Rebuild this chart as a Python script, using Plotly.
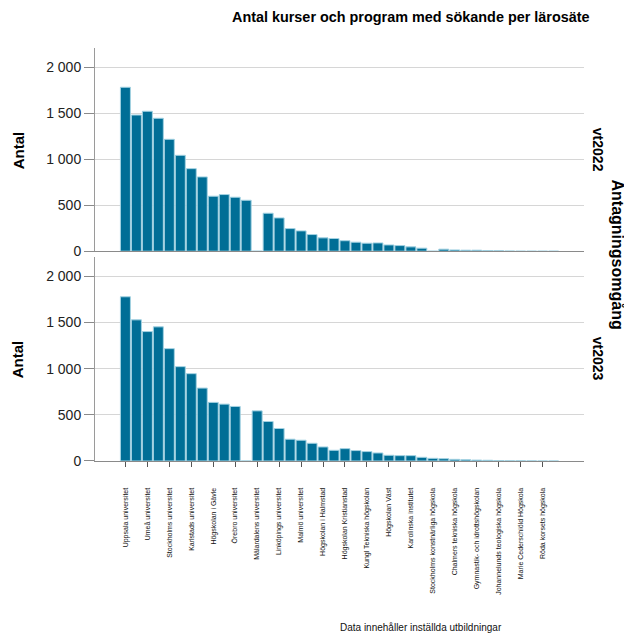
import plotly.graph_objects as go

categories = [
    "Uppsala universitet", "Lunds universitet", "Umeå universitet", "Göteborgs universitet",
    "Stockholms universitet", "Linnéuniversitetet", "Karlstads universitet", "Mittuniversitetet",
    "Högskolan i Gävle", "Högskolan Dalarna", "Örebro universitet", "Mälardalens högskola",
    "Mälardalens universitet", "Högskolan i Borås", "Linköpings universitet", "Luleå tekniska universitet",
    "Malmö universitet", "Högskolan i Skövde", "Högskolan i Halmstad", "Södertörns högskola",
    "Högskolan Kristianstad", "Jönköping University", "Kungl Tekniska högskolan", "Blekinge tekniska högskola",
    "Högskolan Väst", "Sveriges lantbruksuniversitet", "Karolinska institutet", "Försvarshögskolan",
    "Stockholms konstnärliga högskola", "Konstfack", "Chalmers tekniska högskola", "Kungl. Konsthögskolan",
    "Gymnastik- och idrottshögskolan", "Sophiahemmet Högskola", "Johannelunds teologiska högskola", "Kungl. Musikhögskolan",
    "Marie Cederschiöld Högskola", "Enskilda Högskolan Stockholm", "Röda korsets högskola", "Beckmans designhögskola",
]

vt2022 = [1783, 1481, 1522, 1446, 1217, 1043, 898, 808, 598, 616, 587, 554, 0, 413, 362, 246,
          221, 181, 145, 138, 114, 98, 87, 90, 68, 61, 47, 33, 0, 22, 14, 11, 11, 7, 5, 2, 0, 0, 0, 0]
vt2023 = [1779, 1529, 1402, 1453, 1217, 1022, 946, 790, 635, 616, 591, 0, 543, 428, 352, 236,
          225, 192, 152, 116, 134, 113, 102, 87, 62, 58, 58, 40, 29, 25, 18, 14, 10, 8, 5, 2, 2, 1, 0, 0]

tick_labels = categories[::2]
y_ticks = [0, 500, 1000, 1500, 2000]

BAR = "#006e96"
EDGE = "#a3d2e2"
FONT = "Liberation Sans, Arial, sans-serif"

fig = go.Figure()
fig.add_trace(go.Bar(x=categories, y=vt2022, xaxis="x2", yaxis="y2",
                     marker=dict(color=BAR, line=dict(color=EDGE, width=1)), showlegend=False))
fig.add_trace(go.Bar(x=categories, y=vt2023, xaxis="x", yaxis="y",
                     marker=dict(color=BAR, line=dict(color=EDGE, width=1)), showlegend=False))

xr = [-2.77, 41.77]
yr = [0, 2210]
common_y = dict(range=yr, tickvals=y_ticks, tickformat=",d", showgrid=True, gridcolor="#d6d6d6",
                gridwidth=1, zeroline=False, showline=True, linecolor="#9a9a9a", linewidth=1,
                ticks="outside", ticklen=10, tickcolor="#8a8a8a",
                tickfont=dict(family=FONT, size=14, color="#222222"))

# page has an 8px body margin, so the figure is 8px smaller than the window
fig.update_layout(
    width=624, height=629,
    margin=dict(l=87, r=48, t=40, b=176),
    paper_bgcolor="white", plot_bgcolor="white",
    separators=", ",
    bargap=0.09,
    xaxis=dict(type="category", categoryorder="array", categoryarray=categories, range=xr,
               domain=[0, 1], anchor="y", tickmode="array", tickvals=tick_labels, ticktext=tick_labels,
               tickangle=-90, ticks="outside", ticklen=5, tickcolor="#555555",
               showline=True, linecolor="#8a8a8a", linewidth=1, showgrid=False,
               ticklabelstandoff=18,
               tickfont=dict(family=FONT, size=7, color="#111111")),
    xaxis2=dict(type="category", categoryorder="array", categoryarray=categories, range=xr,
                domain=[0, 1], anchor="y2", showticklabels=False, ticks="",
                showline=True, linecolor="#8a8a8a", linewidth=1, showgrid=False),
    yaxis=dict(domain=[0, 0.494], anchor="x", **common_y),
    yaxis2=dict(domain=[0.508, 1], anchor="x2", **common_y),
)

def ann(text, x, y, size, bold=True, angle=0, color="#000000"):
    fig.add_annotation(text=f"<b>{text}</b>" if bold else text, x=x, y=y, xref="paper", yref="paper",
                       showarrow=False, textangle=angle, xanchor="center", yanchor="middle",
                       font=dict(family=FONT, size=size, color=color))

ann("Antal kurser och program med sökande per lärosäte", 0.646, 1.075, 14.4)
ann("Antal", -0.157, 0.753, 15, angle=-90)
ann("Antal", -0.157, 0.247, 15, angle=-90)
ann("vt2022", 1.029, 0.753, 14, angle=90)
ann("vt2023", 1.029, 0.247, 14, angle=90)
ann("Antagningsomgång", 1.0695, 0.5, 16, angle=90)
ann("Data innehåller inställda utbildningar", 0.667, -0.404, 10, bold=False, color="#111111")

fig.write_html("out.html")
